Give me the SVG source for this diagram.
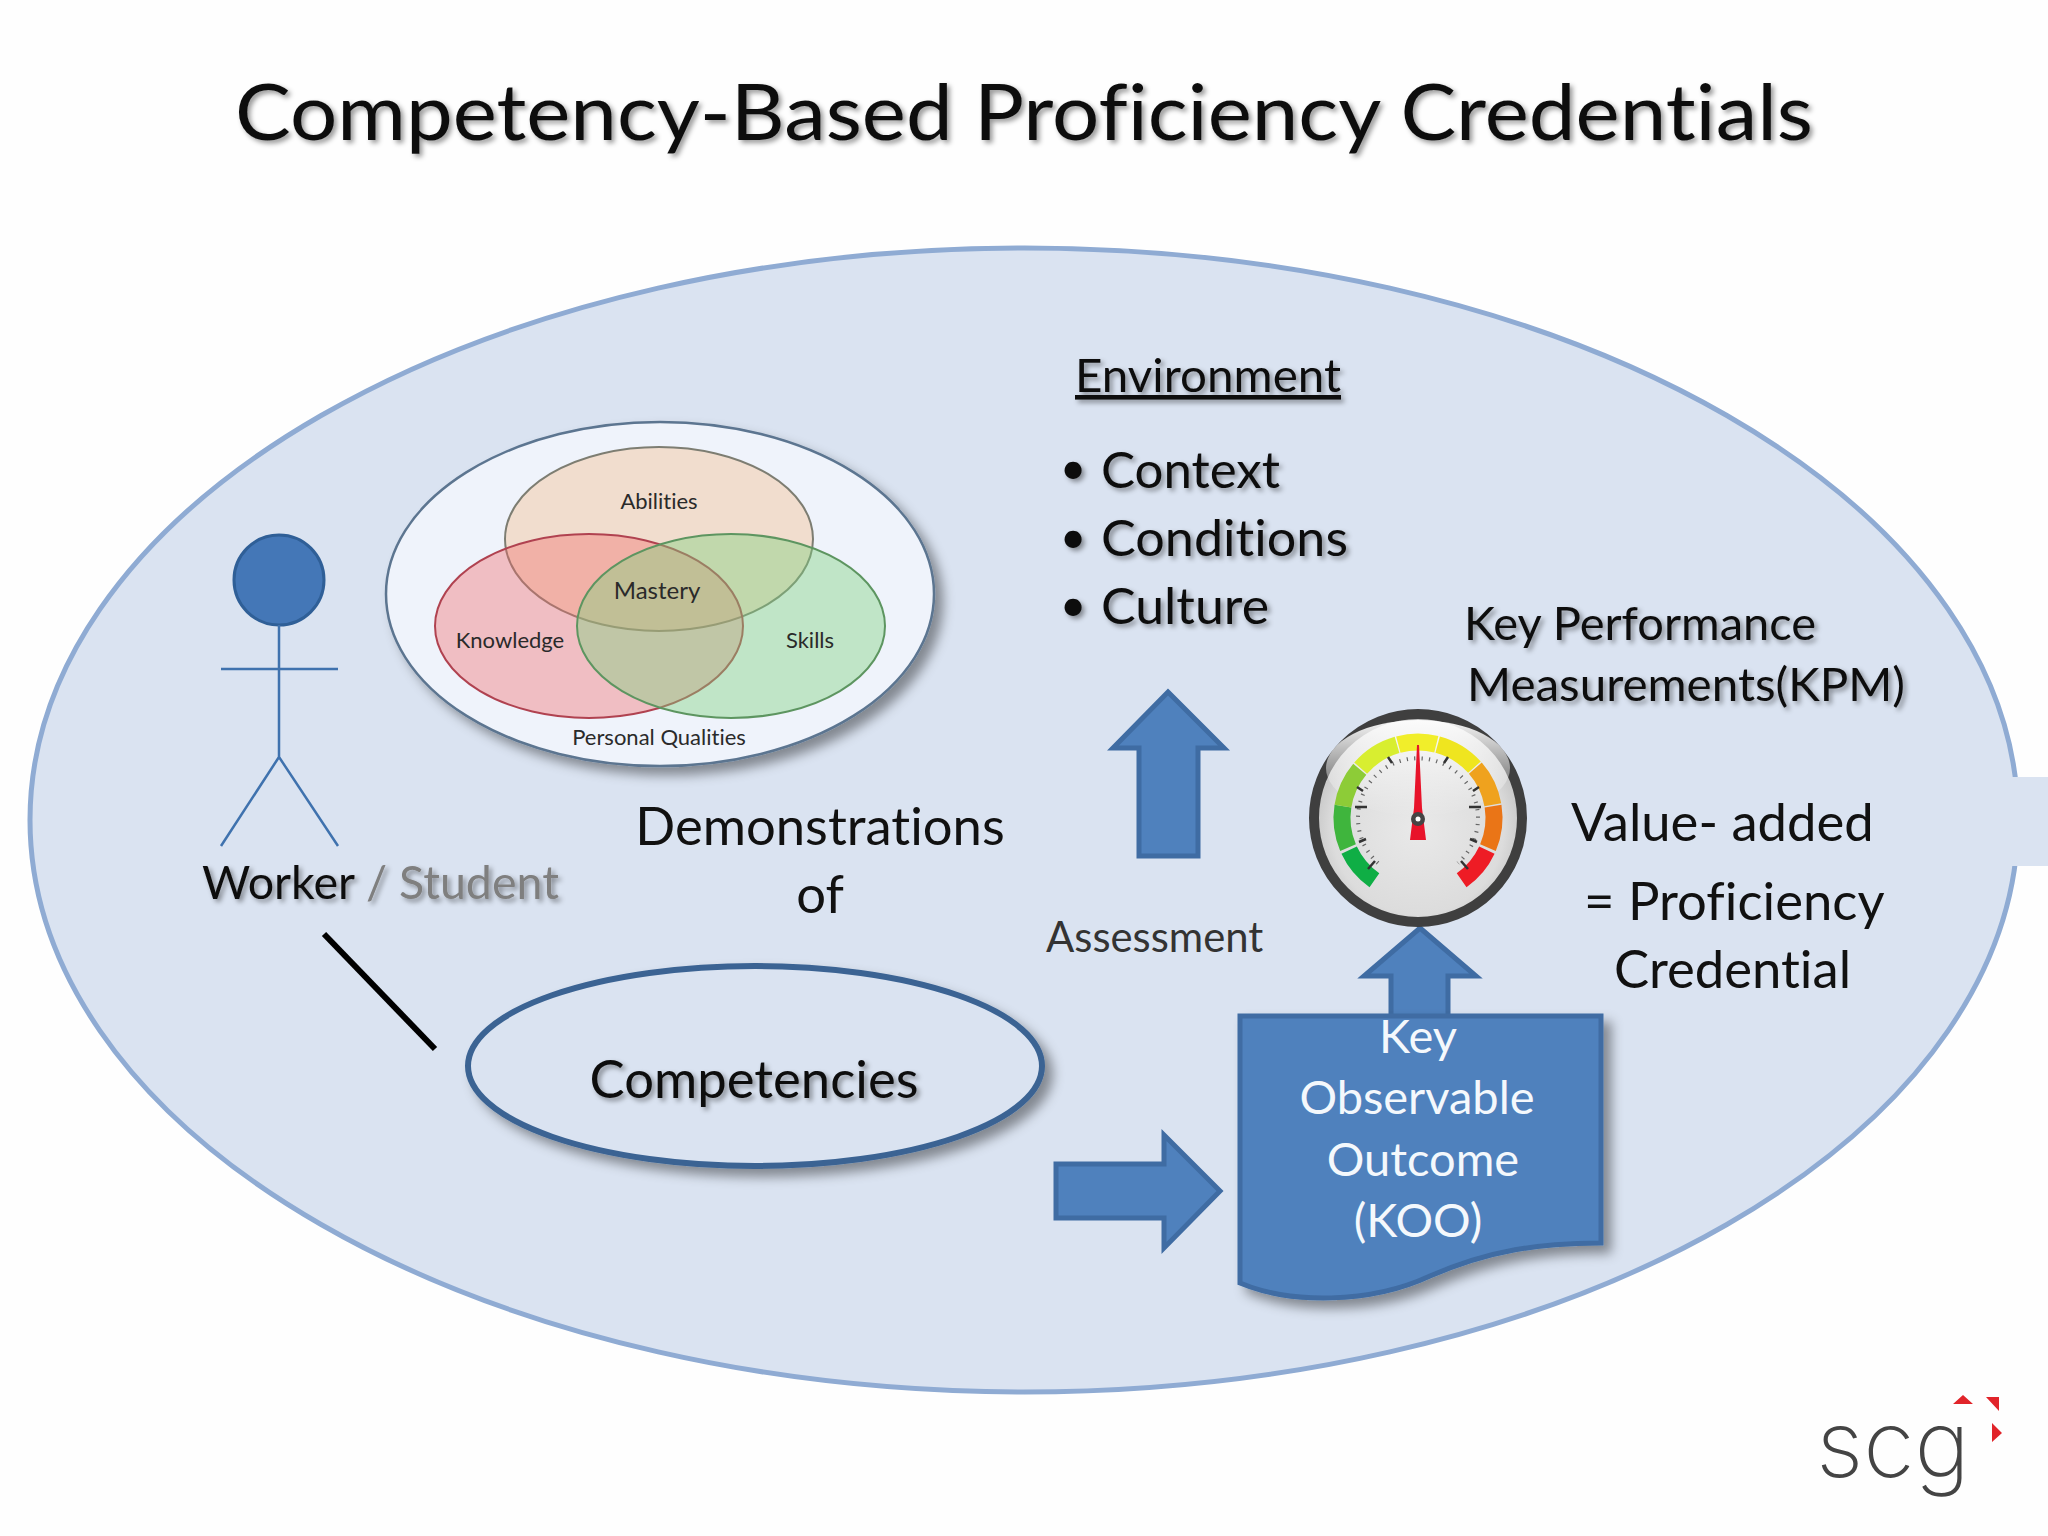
<svg xmlns="http://www.w3.org/2000/svg" width="2048" height="1536" viewBox="0 0 2048 1536">
<defs>
<filter id="ts" x="-10%" y="-30%" width="120%" height="160%"><feDropShadow dx="3" dy="3" stdDeviation="2.5" flood-color="#000" flood-opacity="0.4"/></filter>
<filter id="ss" x="-10%" y="-10%" width="125%" height="125%"><feDropShadow dx="8" dy="8" stdDeviation="6" flood-color="#000" flood-opacity="0.4"/></filter>
<radialGradient id="dial" cx="50%" cy="55%" r="55%"><stop offset="0" stop-color="#e9e9e9"/><stop offset="0.75" stop-color="#dcdcdc"/><stop offset="1" stop-color="#bdbdbd"/></radialGradient>
<linearGradient id="gloss" x1="0" y1="0" x2="0" y2="1"><stop offset="0" stop-color="#fff" stop-opacity="0.95"/><stop offset="1" stop-color="#fff" stop-opacity="0"/></linearGradient>
</defs>
<style>
text{font-family:Lato,"Liberation Sans",sans-serif;fill:#111;font-variant-ligatures:none}
.m{text-anchor:middle}
.s{filter:url(#ts)}
.blue{fill:#4f81bd;stroke:#3f6ca3;stroke-width:5}
.stick{fill:none;stroke:#3f72ae;stroke-width:2.5}
.v{font-size:22px;text-anchor:middle;fill:#2a2a2a}
.l{font-size:52.6px}
.k{font-size:47px;fill:#f4f8fc;text-anchor:middle}
.seg{fill:none;stroke-width:17}
</style>
<rect width="2048" height="1536" fill="#fefefe"/>
<g id="oval"><ellipse cx="1024" cy="820" rx="994" ry="572" fill="#dae3f1" stroke="#8fabd3" stroke-width="5"/></g>
<rect id="side-tab" x="2000" y="777" width="48" height="89" fill="#dae3f1"/>
<text id="title" class="m s" x="1024" y="140" font-size="78" textLength="1578" lengthAdjust="spacingAndGlyphs">Competency-Based Proficiency Credentials</text>

<g id="worker">
<circle cx="279" cy="580" r="45" fill="#4477b7" stroke="#2f5f97" stroke-width="3"/>
<path class="stick" d="M279 625V757M221 669H338M279 757L221 846M279 757L338 846"/>
<text class="s" x="202" y="899" font-size="46" textLength="357" lengthAdjust="spacingAndGlyphs">Worker <tspan style="fill:#7f7f7f">/ Student</tspan></text>
</g>

<g id="venn">
<ellipse cx="660" cy="594" rx="274" ry="172" fill="#eff3fb" stroke="#5c7590" stroke-width="2.5" filter="url(#ss)"/>
<ellipse cx="659" cy="539" rx="154" ry="92" fill="#f2cfb0" fill-opacity="0.6" stroke="#7d7d72" stroke-width="2"/>
<ellipse cx="589" cy="626" rx="154" ry="92" fill="#f16a6a" fill-opacity="0.38" stroke="#b04250" stroke-width="2"/>
<ellipse cx="731" cy="626" rx="154" ry="92" fill="#7fd27f" fill-opacity="0.42" stroke="#5d9560" stroke-width="2"/>
<text class="v" x="659" y="509">Abilities</text>
<text class="v" x="657" y="599" style="font-size:24px">Mastery</text>
<text class="v" x="510" y="648">Knowledge</text>
<text class="v" x="810" y="648">Skills</text>
<text class="v" x="659" y="745">Personal Qualities</text>
</g>

<g id="demonstrations"><text class="m l" x="820" y="845">Demonstrations</text><text class="m l" x="820" y="913">of</text></g>

<g id="environment">
<text class="m s" x="1208" y="392" font-size="46" text-decoration="underline" textLength="266" lengthAdjust="spacingAndGlyphs">Environment</text>
<g class="s"><g font-size="46" text-anchor="middle"><text x="1073" y="484">•</text><text x="1073" y="553">•</text><text x="1073" y="621">•</text></g>
<g font-size="51"><text x="1101" y="488">Context</text><text x="1101" y="556" textLength="247" lengthAdjust="spacingAndGlyphs">Conditions</text><text x="1101" y="624" textLength="168" lengthAdjust="spacingAndGlyphs">Culture</text></g></g>
</g>

<g id="connectors">
<path class="blue" d="M1168 692L1224 748H1198V856H1139V748H1113Z"/>
<path class="blue" d="M1420 928L1476 976H1448V1020H1391V976H1364Z"/>
<path class="blue" d="M1056 1164H1164V1135L1220 1191L1164 1248V1218H1056Z"/>
<path d="M324 934L435 1049" stroke="#000" stroke-width="6" fill="none"/>
</g>

<g id="assessment"><text x="1046" y="952" font-size="41.8" style="fill:#333">Assessment</text></g>

<g id="kpm">
<text class="s" x="1464" y="640" font-size="47">Key Performance</text>
<text class="s" x="1467" y="701" font-size="46" textLength="438" lengthAdjust="spacingAndGlyphs">Measurements(KPM)</text>
</g>

<g id="gauge">
<circle cx="1418" cy="818" r="104" fill="url(#dial)" stroke="#3f3f3f" stroke-width="10"/>
<ellipse cx="1418" cy="768" rx="92" ry="48" fill="url(#gloss)"/>
<g transform="translate(1418 818)">
<circle class="seg" r="76" pathLength="360" stroke-dasharray="30 330" transform="rotate(-235)" stroke="#0fae45"/>
<circle class="seg" r="76" pathLength="360" stroke-dasharray="32 328" transform="rotate(-203)" stroke="#3fb53d"/>
<circle class="seg" r="76" pathLength="360" stroke-dasharray="31 329" transform="rotate(-171)" stroke="#8dcc37"/>
<circle class="seg" r="76" pathLength="360" stroke-dasharray="33 327" transform="rotate(-139)" stroke="#d8ee30"/>
<circle class="seg" r="76" pathLength="360" stroke-dasharray="29 331" transform="rotate(-105)" stroke="#f1ee2a"/>
<circle class="seg" r="76" pathLength="360" stroke-dasharray="33 327" transform="rotate(-75)" stroke="#efe51f"/>
<circle class="seg" r="76" pathLength="360" stroke-dasharray="31 329" transform="rotate(-41)" stroke="#efa21e"/>
<circle class="seg" r="76" pathLength="360" stroke-dasharray="32 328" transform="rotate(-9)" stroke="#ea7517"/>
<circle class="seg" r="76" pathLength="360" stroke-dasharray="30 330" transform="rotate(25)" stroke="#ee1c25"/>
<path d="M-40 45A60 60 0 1 1 40 45" fill="none" stroke="#666" stroke-width="4" stroke-dasharray="1.2 6.2"/>
<path d="M-63 -11H-51M63 -11H51M-43 43L-50 51M43 43L50 51M-26 -55L-30 -61M26 -55L30 -61M-55 -27L-61 -31M55 -27L61 -31M-59 24L-52 21M59 24L52 21" stroke="#333" stroke-width="2.5"/>
<path d="M-1 -73L1 -73L4 -10L8 22H-8L-4 -10Z" fill="#e8132a"/>
<circle cy="1" r="7" fill="#444"/><circle cy="1" r="2.5" fill="#fff"/>
</g>
</g>

<g id="value">
<text class="l" x="1571" y="841">Value- added</text>
<text class="l" x="1584" y="920">= Proficiency</text>
<text class="l" x="1614" y="988">Credential</text>
</g>

<g id="competencies">
<ellipse cx="755" cy="1066" rx="287" ry="100" fill="#dae3f1" stroke="#3b6393" stroke-width="6" filter="url(#ss)"/>
<text class="m s" x="754" y="1098" font-size="52.6">Competencies</text>
</g>

<g id="koo">
<path class="blue" d="M1240 1016H1601V1243C1540 1243 1490 1250 1430 1276C1370 1304 1290 1304 1240 1283Z" filter="url(#ss)"/>
<text class="k" x="1418" y="1053">Key</text>
<text class="k" x="1417" y="1114">Observable</text>
<text class="k" x="1423" y="1176">Outcome</text>
<text class="k" x="1418" y="1237">(KOO)</text>
</g>

<g id="logo">
<text x="1816" y="1477" font-size="92" style="font-family:Inter,'Liberation Sans',sans-serif;font-weight:200;fill:#444" textLength="154" lengthAdjust="spacingAndGlyphs">scg</text>
<path fill="#e1242a" d="M1953 1404L1963 1395L1973 1404ZM1986 1397H1999V1411ZM1992 1423L2002 1433L1992 1442Z"/>
</g>
</svg>
